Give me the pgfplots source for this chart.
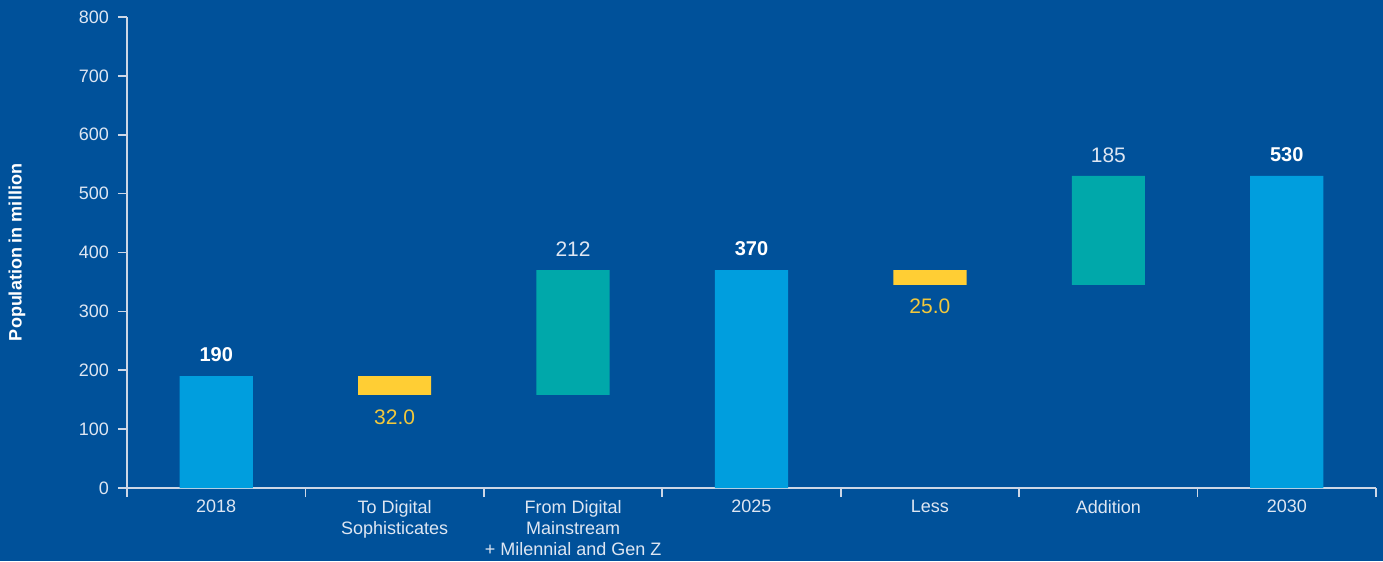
\documentclass[border=0pt]{standalone}
\usepackage{pgfplots}
\pgfplotsset{compat=1.18}
\usepackage{fontspec}
\setmainfont{Liberation Sans}
\definecolor{bgblue}{RGB}{0,81,154}
\definecolor{barblue}{RGB}{0,158,222}
\definecolor{barteal}{RGB}{0,168,170}
\definecolor{baryellow}{RGB}{255,206,52}
\definecolor{txtyellow}{RGB}{242,200,60}
\definecolor{txtlight}{RGB}{222,230,242}
\definecolor{axline}{RGB}{205,215,230}
\begin{document}
\begin{tikzpicture}
\fill[bgblue] (-63.5pt,-36.5pt) rectangle (628pt,244pt);
\begin{axis}[
  scale only axis,
  width=624.5pt, height=235.5pt,
  at={(0,0)}, anchor=south west,
  ybar stacked,
  bar width=0.41,
  xmin=-0.5, xmax=6.5,
  ymin=0, ymax=800,
  axis lines*=left,
  axis line style={axline, line width=0.8pt},
  tick style={axline, line width=0.8pt},
  tick align=outside,
  major tick length=4.5pt,
  minor tick length=4.5pt,
  xtick={0,...,6},
  minor xtick={-0.5,0.5,1.5,2.5,3.5,4.5,5.5,6.5},
  xticklabels={2018,{To Digital\\Sophisticates},{From Digital\\Mainstream\\+ Milennial and Gen Z},2025,Less,Addition,2030},
  major x tick style={draw=none},
  minor x tick style={draw=axline, line width=0.8pt},
  xticklabel style={align=center, font=\fontsize{9}{10.5}\selectfont, text=txtlight, yshift=2pt},
  ytick={0,100,...,800},
  yticklabel style={font=\fontsize{9}{10.5}\selectfont, text=txtlight, xshift=-1pt},
  /pgf/number format/assume math mode=true,
  ylabel={Population in million},
  ylabel style={at={(axis description cs:-0.0881,0.5)}, anchor=center, font=\fontsize{9}{11}\selectfont\bfseries, text=white},
  clip=false,
]
% invisible base
\addplot[draw=none, fill=none] coordinates {(0,0) (1,158) (2,158) (3,0) (4,345) (5,345) (6,0)};
% totals
\addplot[draw=none, fill=barblue] coordinates {(0,190) (1,0) (2,0) (3,370) (4,0) (5,0) (6,530)};
% decreases
\addplot[draw=none, fill=baryellow] coordinates {(0,0) (1,32) (2,0) (3,0) (4,25) (5,0) (6,0)};
% increases
\addplot[draw=none, fill=barteal] coordinates {(0,0) (1,0) (2,212) (3,0) (4,0) (5,185) (6,0)};

\node[anchor=south, inner sep=0pt, yshift=7pt, text=white, font=\fontsize{10}{12}\selectfont\bfseries] at (axis cs:0,190) {190};
\node[anchor=south, inner sep=0pt, yshift=7pt, text=white, font=\fontsize{10}{12}\selectfont\bfseries] at (axis cs:3,370) {370};
\node[anchor=south, inner sep=0pt, yshift=7pt, text=white, font=\fontsize{10}{12}\selectfont\bfseries] at (axis cs:6,530) {530};
\node[anchor=south, inner sep=0pt, yshift=6.5pt, text=txtlight, font=\fontsize{10.5}{12}\selectfont] at (axis cs:2,370) {212};
\node[anchor=south, inner sep=0pt, yshift=6.5pt, text=txtlight, font=\fontsize{10.5}{12}\selectfont] at (axis cs:5,530) {185};
\node[anchor=north, inner sep=0pt, yshift=-7pt, text=txtyellow, font=\fontsize{10.5}{12}\selectfont] at (axis cs:1,158) {32.0};
\node[anchor=north, inner sep=0pt, yshift=-7pt, text=txtyellow, font=\fontsize{10.5}{12}\selectfont] at (axis cs:4,345) {25.0};
\end{axis}
\end{tikzpicture}
\end{document}
